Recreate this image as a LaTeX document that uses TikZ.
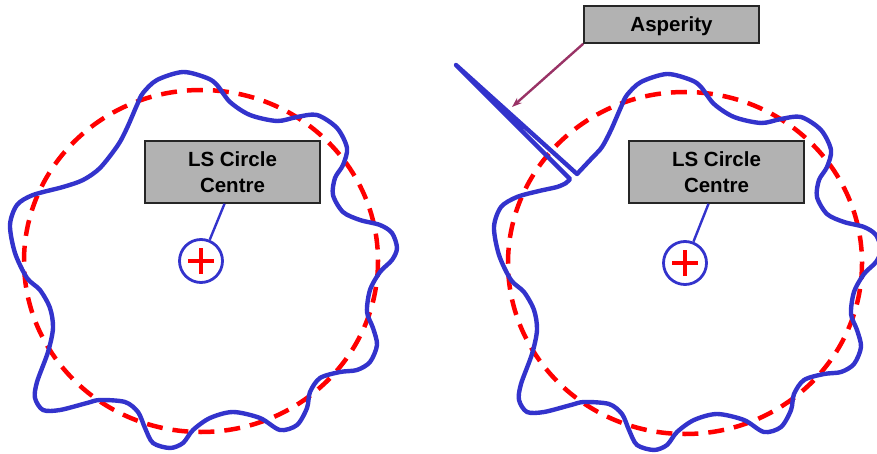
\documentclass[tikz,border=0pt]{standalone}
\usepackage{fontspec}
\setmainfont{Liberation Sans}
\usetikzlibrary{arrows.meta}
\definecolor{waveblue}{HTML}{3333CC}
\definecolor{arrowpurple}{HTML}{993366}
\definecolor{boxgray}{HTML}{B2B2B2}
\begin{document}
\begin{tikzpicture}[x=1pt,y=-1pt,
  wave/.style={color=waveblue,line width=4.4pt,line join=round},
  lsfit/.style={color=red,line width=4.5pt,dash pattern=on 16pt off 10pt},
  label box/.style={draw=black!85,fill=boxgray,line width=1.6pt,minimum width=175pt,inner sep=0pt,
    font=\fontsize{20.5}{26}\selectfont\bfseries,text depth=0pt,align=center},
  centre mark/.style={circle,draw=waveblue,line width=2.8pt,minimum size=43pt,inner sep=0pt,
    path picture={\draw[red,line width=3.5pt]
      ([xshift=-13pt]path picture bounding box.center) -- ([xshift=13pt]path picture bounding box.center)
      ([yshift=-13pt]path picture bounding box.center) -- ([yshift=13pt]path picture bounding box.center);}},
  pointer/.style={color=waveblue,line width=2.4pt}]
\useasboundingbox (0,0) rectangle (877,454);
% left: measured profile with its LS circle
\draw[lsfit] (201,261) ellipse [x radius=177, y radius=171];
\draw[wave] plot[smooth cycle] coordinates {(183,72) (207,78) (217,85) (230,102) (250,115) (277,121) (297,117) (317,115) (337,128) (347,148) (343,165) (335,178) (333,195) (343,212) (360,220) (380,225) (392,233) (397,248) (392,260) (380,272) (370,290) (367,312) (373,328) (377,345) (370,362) (357,370) (340,372) (320,378) (310,392) (307,408) (297,425) (280,430) (260,418) (233,412) (210,418) (193,430) (183,443) (170,448) (153,443) (145,428) (138,412) (125,402) (100,400) (87,403) (60,410) (43,410) (35,398) (37,382) (48,352) (53,328) (50,308) (40,290) (27,278) (15,253) (10,225) (17,205) (33,195) (63,187) (83,180) (100,168) (118,145) (127,128) (137,105) (143,93) (157,80)};
\node[label box,minimum height=62pt,text height=40.3pt] (lsboxL) at (232.5,172) {LS Circle\\Centre};
\node[centre mark] (cenL) at (201,261) {};
\draw[pointer] ([xshift=-8pt]lsboxL.south) -- (cenL);
% right: same profile with an asperity
\begin{scope}[shift={(484,2)}]
\draw[lsfit] (201,261) ellipse [x radius=177, y radius=171];
\draw[wave] plot[smooth] coordinates {(93,172) (108,156) (118,145) (127,128) (137,105) (143,93) (157,80) (183,72) (207,78) (217,85) (230,102) (250,115) (277,121) (297,117) (317,115) (337,128) (347,148) (343,165) (335,178) (333,195) (343,212) (360,220) (380,225) (392,233) (397,248) (392,260) (380,272) (370,290) (367,312) (373,328) (377,345) (370,362) (357,370) (340,372) (320,378) (310,392) (307,408) (297,425) (280,430) (260,418) (233,412) (210,418) (193,430) (183,443) (170,448) (153,443) (145,428) (138,412) (125,402) (100,400) (87,403) (60,410) (43,410) (35,398) (37,382) (48,352) (53,328) (50,308) (40,290) (27,278) (15,253) (10,225) (17,205) (33,195) (55,189) (73,185) (82,181) (86,177)} -- (-28,63) -- cycle;
\node[label box,minimum height=62pt,text height=40.3pt] (lsboxR) at (232.5,170) {LS Circle\\Centre};
\node[centre mark] (cenR) at (201,261) {};
\draw[pointer] ([xshift=-8pt]lsboxR.south) -- (cenR);
\end{scope}
\node[label box,minimum height=37pt,text height=14.7pt] (asp) at (671.5,24.5) {Asperity};
\coordinate (asptip) at (512,107);
\draw[-{Stealth[length=10pt,width=7pt]},arrowpurple,line width=2.4pt] (asp.south west) -- (asptip);
\end{tikzpicture}
\end{document}
